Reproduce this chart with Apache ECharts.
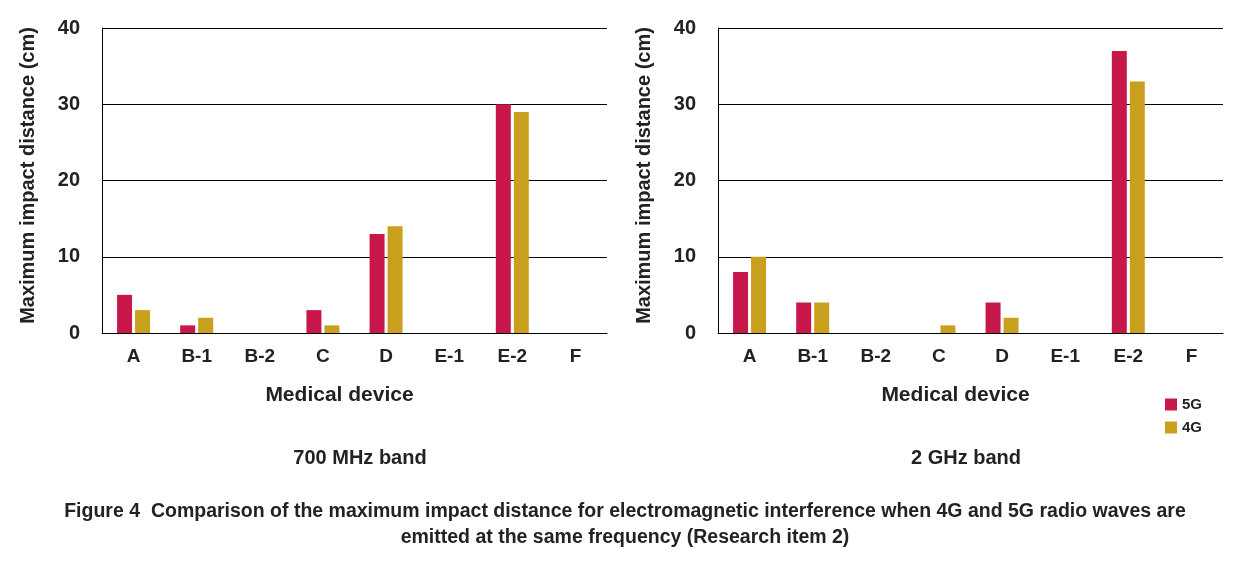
<!DOCTYPE html>
<html><head><meta charset="utf-8">
<script src="https://cdn.jsdelivr.net/npm/echarts@6/dist/echarts.min.js"></script>
<style>body{margin:0;background:#fff}#c{width:1240px;height:570px}</style>
</head><body><div id="c"></div>
<script>
var categories = ['A', 'B-1', 'B-2', 'C', 'D', 'E-1', 'E-2', 'F'];
var left5G = [5, 1, 0, 3, 13, 0, 30, 0];
var left4G = [3, 2, 0, 1, 14, 0, 29, 0];
var right5G = [8, 4, 0, 0, 4, 0, 37, 0];
var right4G = [10, 4, 0, 1, 2, 0, 33, 0];

var c5 = '#C8174B', c4 = '#C9A01E';
var font = 'Arial, Liberation Sans, sans-serif';
var chart = echarts.init(document.getElementById('c'));

function xAxis(i) {
    return {
        type: 'category', gridIndex: i, data: categories,
        axisTick: { show: false },
        axisLine: { lineStyle: { color: '#000' } },
        axisLabel: { color: '#222', fontSize: 19, fontWeight: 'bold', fontFamily: font, margin: 14 },
        name: 'Medical device', nameLocation: 'middle', nameGap: 52,
        nameTextStyle: { color: '#222', fontSize: 21, fontWeight: 'bold', fontFamily: font, padding: [0, 30, 0, 0] }
    };
}
function yAxis(i) {
    return {
        type: 'value', gridIndex: i, min: 0, max: 40, interval: 10,
        axisLine: { show: true, lineStyle: { color: '#000' } },
        axisTick: { show: false },
        splitLine: { lineStyle: { color: '#000' } },
        axisLabel: { color: '#222', fontSize: 20, fontWeight: 'bold', fontFamily: font, margin: 22 },
        name: 'Maximum impact distance (cm)', nameLocation: 'middle', nameGap: 64,
        nameTextStyle: { color: '#222', fontSize: 20, fontWeight: 'bold', fontFamily: font, padding: [0, 0, 0, 10] }
    };
}
function bars(name, data, color, i) {
    return { name: name, type: 'bar', xAxisIndex: i, yAxisIndex: i, data: data,
        itemStyle: { color: color }, barWidth: 15, barGap: '20%' };
}

chart.setOption({
    animation: false,
    grid: [
        { left: 102, top: 28, width: 505, height: 305 },
        { left: 718, top: 28, width: 505, height: 305 }
    ],
    xAxis: [xAxis(0), xAxis(1)],
    yAxis: [yAxis(0), yAxis(1)],
    legend: {
        orient: 'vertical', left: 1160, top: 392, itemWidth: 12, itemHeight: 12, itemGap: 8,
        icon: 'rect', data: ['5G', '4G'],
        textStyle: { color: '#222', fontSize: 15, fontWeight: 'bold', fontFamily: font }
    },
    title: [
        { text: '700 MHz band', left: 355, top: 443, textAlign: 'center',
          textStyle: { fontSize: 20, fontWeight: 'bold', color: '#222', fontFamily: font } },
        { text: '2 GHz band', left: 961, top: 443, textAlign: 'center',
          textStyle: { fontSize: 20, fontWeight: 'bold', color: '#222', fontFamily: font } },
        { text: 'Figure 4  Comparison of the maximum impact distance for electromagnetic interference when 4G and 5G radio waves are\nemitted at the same frequency (Research item 2)',
          left: 620, top: 494, textAlign: 'center',
          textStyle: { fontSize: 19.5, fontWeight: 'bold', color: '#222', fontFamily: font, lineHeight: 26, align: 'center' } }
    ],
    series: [
        bars('5G', left5G, c5, 0), bars('4G', left4G, c4, 0),
        bars('5G', right5G, c5, 1), bars('4G', right4G, c4, 1)
    ]
});
</script></body></html>
